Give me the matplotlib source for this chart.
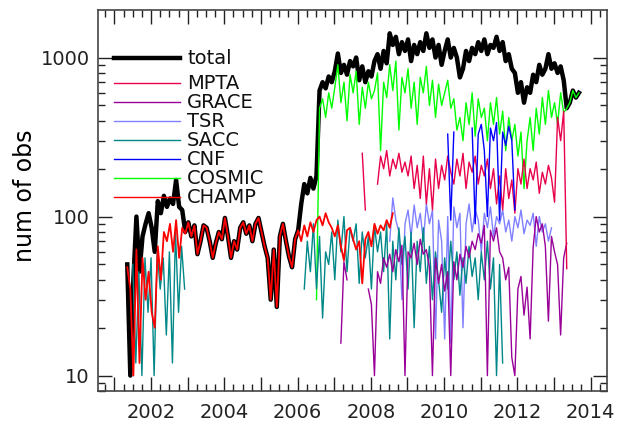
import matplotlib.pyplot as plt
import numpy as np
from matplotlib.ticker import MultipleLocator, FuncFormatter, NullFormatter

nan = np.nan
step = 1 / 12  # monthly counts

# total of all occultations
total_start = 2001.35
total = [50, 10, 40, 100, 45, 75, 90, 105, 85, 60, 125, 105, 135, 115, 130, 120, 170, 115, 110, 80,
         92, 75, 88, 58, 70, 88, 85, 70, 55, 68, 80, 72, 98, 75, 55, 70, 62, 85, 92, 78,
         88, 70, 90, 98, 80, 65, 55, 30, 62, 27, 75, 90, 70, 56, 48, 72, 82,
         120, 160, 140, 175, 150, 180,
         620, 700, 640, 760, 700, 820, 1060, 800, 900, 780,
         950, 880, 1000, 720, 880, 700, 820, 760, 950, 1050,
         850, 1100, 920, 1420, 1200, 1350, 1050, 1250, 1100, 1300,
         950, 1200, 1050, 1250, 1100, 1420, 1150, 1300, 1000, 1200,
         900, 1100, 1300, 1000, 1150, 1000, 750, 850, 1100, 950,
         1150, 1050, 1250, 1100, 1300, 1050, 1200, 1150, 1350, 1100,
         1250, 950, 1050, 850, 800, 600, 700, 520, 650, 600,
         780, 700, 900, 780, 850, 1050, 850, 920, 800, 880,
         720, 480, 520, 620, 560, 600]

champ_start = 2001.35
champ = [48, 35, 10, 62, 12, 55, 30, 45, 25, 20, 65, 40, 80, 70, 90, 60, 95, 55, 85, 78,
         92, 75, 88, 58, 70, 88, 85, 70, 55, 68, 80, 72, 98, 75, 55, 70, 62, 85, 92, 78,
         88, 70, 90, 98, 80, 65, 55, 30, 62, 27, 75, 90, 70, 56, 48, 72, 82, 70, 88, 75,
         92, 80, 95, 100, 88, 105, 92, 85, 75, 88, 65, 53, 82, 85, 72, 62, 70, 38, 72, 80,
         65, 90, 78, 88, 82, 95, 85, 105]

sacc1_start = 2001.5
sacc1 = [50, 12, 45, 10, 55, 25, 55, 10, 60, 35, 55, 18, 60, 12, 80, 25, 65, 35]
sacc2_start = 2006.183
sacc2 = [35, 70, 45, 90, 35, 75, 23, 60, 50, 80, 40, 95, 60, 100, 45, 85, 70, 90, 38, 80,
         55, 75, 35, 88, 60, 80, 45, 90, 17, 70, 40, 85, 50, 75, 35, 80, 20, 70, 45, 85,
         38, 65, 30, 60, 40, 25, 55, 35, 70, 40, 60, 32, 55, 38, 65, 42, 55, 30, 60, 40,
         70, 35, 55, 10, 50, 12]

cosmic_start = 2006.517
cosmic = [30, 480, 550, 420, 600, 480, 650, 900, 520, 700,
          400, 780, 600, 820, 380, 650, 480, 700, 550, 620,
          800, 260, 700, 560, 900, 620, 950, 350, 750, 600,
          850, 480, 700, 380, 750, 600, 880, 500, 720, 420,
          680, 500, 600, 720, 480, 550, 350, 420, 300, 520,
          380, 600, 320, 550, 420, 480, 300, 520, 380, 560,
          330, 460, 260, 420, 300, 380, 240, 340, 150, 300,
          420, 260, 480, 330, 560, 380, 620, 420, 520, 380,
          600, 450, 480, 520, 620, 560, 600]

grace_start = 2007.183
grace = [16, 52, 40, nan, nan, nan, nan, nan, nan, 35,
         28, 10, 45, 38, 55, 48, 58, 45, 62, 52,
         66, 10, 60, 55, 68, 50, 72, 58, 62, 48,
         10, 55, 38, 50, 34, 45, 10, 52, 40, 58,
         48, 65, 55, 70, 62, 78, 68, 88, 10, 82,
         70, 85, 60, 55, 40, 48, 13, 10, 35, 42,
         24, 36, 17, 64, 100, 80, 90, 65, 22, 75,
         60, 50, 18, 55, 68]

tsr_start = 2008.517
tsr = [70, 131, 95, 80, 30, 90, 110, 75, 118, 85, 105, 70, 120, 90, 110, 17, 95, 70, 17, 100,
       16, 115, 85, 105, 20, 90, 120, 80, 110, 95, 60, 105, 85, 115, 75, 100, 90, 110, 80, 95,
       70, 100, 85, 110, 78, 95, 88, 105, 65, 100, 80, 90, 70, 85]

mpta_start = 2007.767
mpta = [250, 110, nan, nan, nan, 160, 240, 200, 260, 180,
        230, 200, 250, 190, 220, 180, 240, 150, 210, 130,
        240, 120, 200, 110, 230, 150, 210, 170, 240, 190,
        160, 230, 180, 250, 150, 220, 190, 240, 160, 210,
        180, 230, 150, 200, 120, 180, 110, 200, 130, 170,
        105, 200, 160, 230, 150, 200, 170, 220, 140, 190,
        160, 210, 175, 123, 420, 300, 460, 47]

cnf_start = 2010.1
cnf = [330, 95, 340, nan, nan, nan, nan, nan, 360, 90, 330, 380, 260, 100, 360, 300, 390, 95,
       340, 280, 370, 300, 110]

col = {"MPTA": "#e8004a", "GRACE": "#990099", "TSR": "#8080ff", "SACC": "#008888",
       "CNF": "#0000ff", "COSMIC": "#00ff00", "CHAMP": "#ff0000"}


def months(start, vals):
    return start + np.arange(len(vals)) * step


plt.rcParams["font.family"] = "DejaVu Sans"
fig = plt.figure(figsize=(6.28, 4.21), dpi=100)
ax = fig.add_axes([0.156, 0.0713, 0.8106, 0.9049])

ax.plot(months(total_start, total), total, color="black", lw=3.2, zorder=1)
ax.plot(months(cosmic_start, cosmic), cosmic, color=col["COSMIC"], lw=1.0, zorder=2)
ax.plot(months(tsr_start, tsr), tsr, color=col["TSR"], lw=1.0, zorder=3)
ax.plot(months(sacc1_start, sacc1), sacc1, color=col["SACC"], lw=1.0, zorder=4)
ax.plot(months(sacc2_start, sacc2), sacc2, color=col["SACC"], lw=1.0, zorder=4)
ax.plot(months(grace_start, grace), grace, color=col["GRACE"], lw=1.0, zorder=5)
ax.plot(months(champ_start, champ), champ, color=col["CHAMP"], lw=1.3, zorder=6)
ax.plot(months(mpta_start, mpta), mpta, color=col["MPTA"], lw=1.0, zorder=7)
ax.plot(months(cnf_start, cnf), cnf, color=col["CNF"], lw=1.0, zorder=8)

# hand-made legend, top left
entries = [("total", "black", 3.2)] + [(k, col[k], 1.0) for k in
           ["MPTA", "GRACE", "TSR", "SACC", "CNF", "COSMIC", "CHAMP"]]
for k, (name, c, lw) in enumerate(entries):
    yy = 0.874 if k == 0 else 0.808 - (k - 1) * 0.0499
    ax.plot([0.031, 0.161], [yy, yy], transform=ax.transAxes, color=c, lw=lw, zorder=10)
    ax.text(0.175, yy, name, transform=ax.transAxes, va="center", fontsize=14, color="#111111")

ax.set_yscale("log")
ax.set_ylim(8.0, 1990)
ax.set_xlim(2000.55, 2014.45)
ax.xaxis.set_major_locator(MultipleLocator(1))
ax.xaxis.set_minor_locator(MultipleLocator(0.25))
ax.xaxis.set_major_formatter(FuncFormatter(lambda v, p: f"{int(round(v))}" if round(v) % 2 == 0 else ""))
ax.yaxis.set_major_formatter(FuncFormatter(lambda v, p: f"{int(round(v))}"))
ax.yaxis.set_minor_formatter(NullFormatter())
ax.tick_params(which="both", direction="in", top=True, right=True, labelsize=14, colors="#222222")
ax.tick_params(which="major", length=10, width=1)
ax.tick_params(which="minor", length=5, width=1)
ax.tick_params(axis="x", pad=9)
ax.tick_params(axis="y", pad=6)
for s in ax.spines.values():
    s.set_color("#444444")
    s.set_linewidth(1.2)

ax.set_ylabel("num of obs", fontsize=17)
ax.yaxis.set_label_coords(-0.12, 0.512)

fig.savefig("out.png", dpi=100)
